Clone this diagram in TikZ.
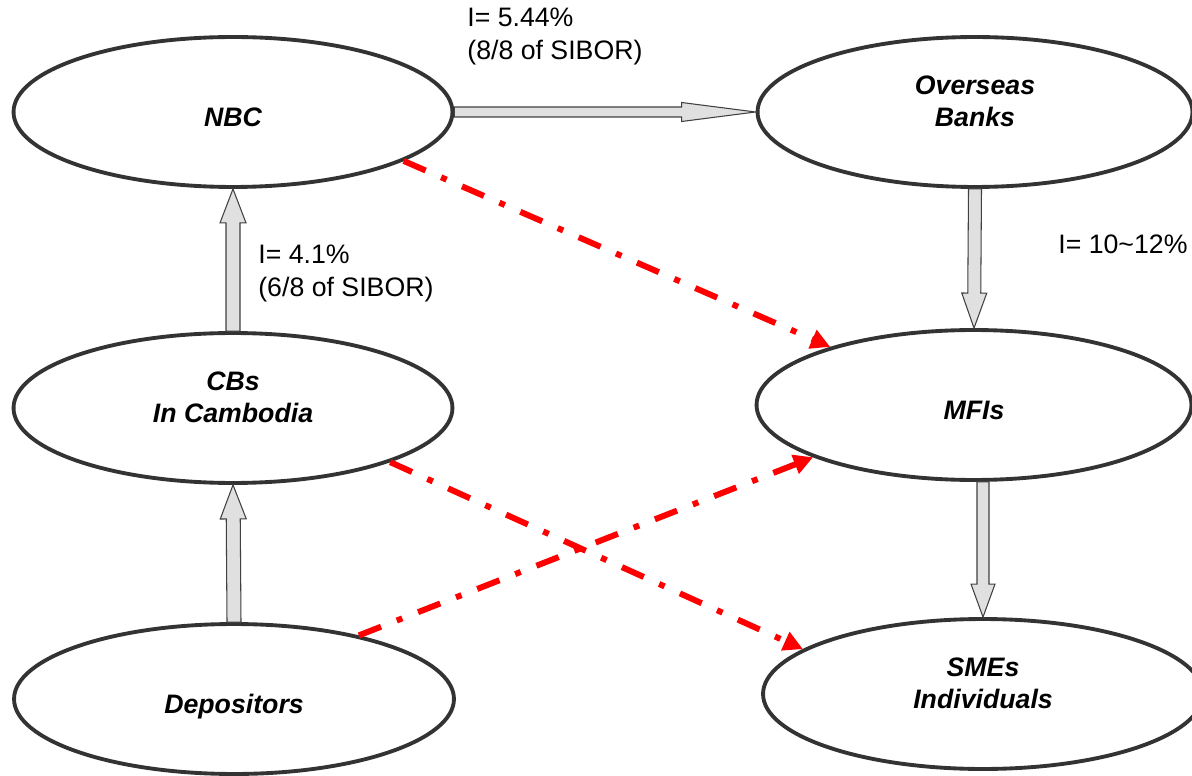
\documentclass[tikz,border=0pt]{standalone}
\usepackage{fontspec}
\setmainfont{Liberation Sans}
\usepackage{tikz}
\usetikzlibrary{%
	calc,%
	arrows.meta,%
	shapes.geometric
}
\definecolor{flowred}{rgb}{1, 0, 0}
\definecolor{rim}{rgb}{0.2, 0.2, 0.2}
\definecolor{fatgray}{rgb}{0.88, 0.88, 0.88}

% fat (block) arrow: shaft half width, head half width, head length, from, to
\newcommand{\fatarrow}[5]{%
	\coordinate (fa-s) at (#4);
	\coordinate (fa-e) at (#5);
	\coordinate (fa-b) at ($(fa-e)!#3!(fa-s)$);
	\filldraw[fatarrow] ($(fa-s)!#1!90:(fa-e)$) -- ($(fa-b)!#1!-90:(fa-s)$) -- ($(fa-b)!#2!-90:(fa-s)$)
		-- (fa-e) -- ($(fa-b)!#2!90:(fa-s)$) -- ($(fa-b)!#1!90:(fa-s)$) -- ($(fa-s)!#1!-90:(fa-e)$) -- cycle;
}

\begin{document}
\begin{tikzpicture}[x=0.02cm, y=-0.02cm,
		actor/.style={ellipse, draw=rim, line width=2.2pt, inner sep=0pt, align=center,
			font=\fontsize{15.2}{18.1}\selectfont\bfseries\itshape},
		oneline/.style={text height=16.5pt, text depth=0pt},
		twolines/.style={text depth=12.4pt},
		rate/.style={align=left, inner sep=0pt, font=\fontsize{15.2}{18.7}\selectfont},
		lend/.style={flowred, line width=3.4pt, dash pattern=on 13.6pt off 9.6pt on 3.4pt off 9.6pt,
			-{Triangle[length=11pt,width=11pt]}},
		fatarrow/.style={draw=black!75, line width=0.6pt, fill=fatgray}
	]
		\useasboundingbox (0,0) rectangle (1192,776);

		% Institutions
		\node[actor, oneline, minimum width=8.78cm, minimum height=3.0cm] (nbc) at (233,112) {NBC};
		\node[actor, twolines, minimum width=8.7cm, minimum height=3.0cm] (ovs) at (975,112) {Overseas\\Banks};
		\node[actor, twolines, minimum width=8.78cm, minimum height=3.0cm] (cbs) at (233,408) {CBs\\In Cambodia};
		\node[actor, oneline, minimum width=8.7cm, minimum height=3.0cm] (mfi) at (974,405) {MFIs};
		\node[actor, twolines, minimum width=8.8cm, minimum height=3.0cm] (sme) at (983,694) {SMEs\\Individuals};
		\node[actor, oneline, minimum width=8.8cm, minimum height=3.0cm] (dep) at (234,699) {Depositors};

		% Interest rates
		\node[rate, anchor=north west] (r1) at (467,8) {I= 5.44\%\\(8/8 of SIBOR)};
		\node[rate, anchor=north west] (r2) at (258,245) {I= 4.1\%\\(6/8 of SIBOR)};
		\node[rate, anchor=north west] (r3) at (1058,235) {I= 10\textasciitilde12\%};

		% Funds as block arrows
		\fatarrow{0.1cm}{0.19cm}{1.48cm}{nbc.east}{ovs.west}
		\fatarrow{0.14cm}{0.26cm}{0.68cm}{cbs.north}{nbc.south}
		\fatarrow{0.14cm}{0.26cm}{0.68cm}{dep.north}{cbs.south}
		\fatarrow{0.13cm}{0.25cm}{0.7cm}{ovs.south}{mfi.north}
		\fatarrow{0.12cm}{0.24cm}{0.66cm}{sme.north |- mfi.south}{sme.north}

		% Lending as red dash-dot arrows
		\draw[lend] (nbc.-16) -- (mfi.158);
		\draw[lend] (cbs.-19) -- (sme.166);
		\draw[lend] (dep.27) -- (mfi.198);
	\end{tikzpicture}
\end{document}
